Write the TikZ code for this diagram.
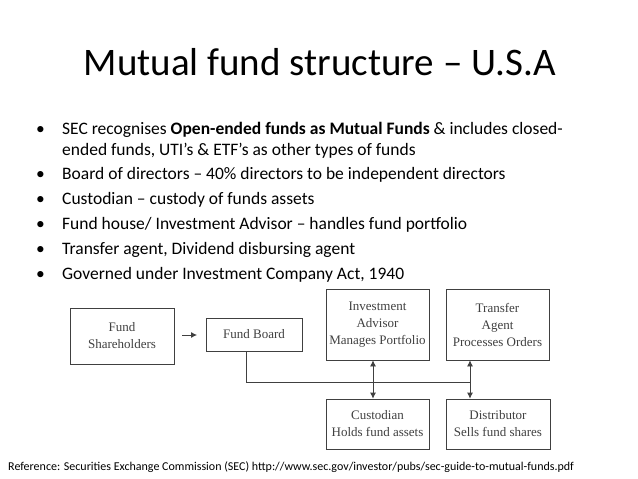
\documentclass[tikz,border=0pt]{standalone}
\usepackage{fontspec}
\setmainfont{Carlito}
\newfontfamily\serif{Liberation Serif}
\usetikzlibrary{arrows.meta}
\begin{document}
\begin{tikzpicture}[x=1pt,y=-1pt,
  box/.style={draw=black!75,line width=0.8pt,align=center,font=\serif\fontsize{13}{17}\selectfont,text=black!75,inner sep=0pt},
  bul/.style={anchor=base west,font=\fontsize{17.5}{20}\selectfont,inner sep=0pt},
  conn/.style={draw=black!75,line width=0.8pt},
  arr/.style={conn,-{Latex[length=6pt,width=6pt]}}]
\useasboundingbox[fill=white] (0,0) rectangle (638,479);
\node (title) at (320,62) {\fontsize{39}{42}\selectfont Mutual fund structure – U.S.A};
\foreach \y/\t [count=\i] in {
 134/{SEC recognises \textbf{Open-ended funds as Mutual Funds} \& includes closed-},
 179/{Board of directors – 40\% directors to be independent directors},
 204/{Custodian – custody of funds assets},
 229/{Fund house/ Investment Advisor – handles fund portfolio},
 254/{Transfer agent, Dividend disbursing agent},
 279/{Governed under Investment Company Act, 1940}}{
 \node[bul] (b\i) at (62,\y) {\t};
 \node[bul] (d\i) at (36,\y) {•};
}
\node[bul] (b1b) at (62,155) {ended funds, UTI’s \& ETF’s as other types of funds};
\node[box,minimum width=104pt,minimum height=56pt] (sh) at (122,336) {Fund\\Shareholders};
\node[box,minimum width=96pt,minimum height=33pt] (fb) at (254,334.5) {Fund Board};
\node[box,minimum width=103pt,minimum height=71pt] (ia) at (377.5,324.5) {Investment\\Advisor\\Manages Portfolio};
\node[box,minimum width=103pt,minimum height=71pt] (ta) at (497.5,324.5) {Transfer\\Agent\\Processes Orders};
\node[box,minimum width=103pt,minimum height=50pt] (cu) at (377.5,424) {Custodian\\Holds fund assets};
\node[box,minimum width=104pt,minimum height=50pt] (di) at (498,424) {Distributor\\Sells fund shares};
\coordinate (a1) at (182,335); \coordinate (a2) at (197,335);
\draw[arr] (a1) -- (a2);
\coordinate (c1) at (246,382); \coordinate (c2) at (470,382);
\draw[conn] (fb.south -| c1) -- (c1) -- (c2);
\draw[arr,{Latex[length=6pt,width=6pt]}-{Latex[length=6pt,width=6pt]}] (ia.south -| 373,0) -- (cu.north -| 373,0);
\draw[arr,{Latex[length=6pt,width=6pt]}-{Latex[length=6pt,width=6pt]}] (ta.south -| c2) -- (di.north -| c2);
\node[anchor=base west,inner sep=0pt,font=\fontsize{12}{13}\selectfont] (ref) at (8,470) {Reference: Securities Exchange Commission (SEC) http://www.sec.gov/investor/pubs/sec-guide-to-mutual-funds.pdf};
\end{tikzpicture}
\end{document}
